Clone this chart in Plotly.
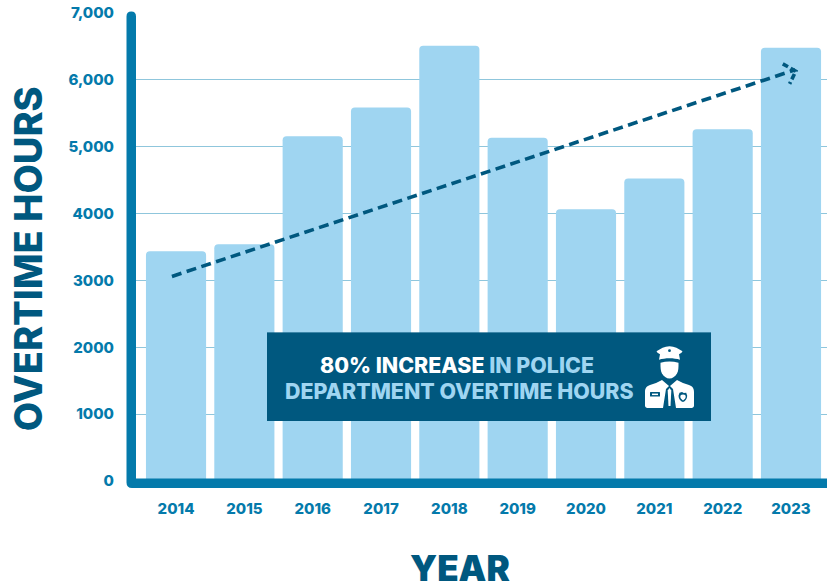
import base64
import plotly.graph_objects as go

years = [2014, 2015, 2016, 2017, 2018, 2019, 2020, 2021, 2022, 2023]
hours = [3435, 3540, 5155, 5585, 6510, 5135, 4065, 4525, 5260, 6480]
y_ticks = [0, 1000, 2000, 3000, 4000, 5000, 6000, 7000]
y_tick_labels = ["0", "1000", "2000", "3000", "4000", "5,000", "6,000", "7,000"]
trend_x = [2013.94, 2023.06]
trend_y = [3060, 6150]
head_x = [2022.88, 2023.07, 2022.98]
head_y = [6240, 6130, 5940]

W, H = 827, 586
L, R, T, B = 131, 0, 12.5, 105
DARK = "#00587f"
MID = "#047aab"
LIGHT = "#9fd5f1"
FONT = "Inter"

def px(x):
    return (x - L) / (W - L - R)

def py(y):
    return (H - B - y) / (H - T - B)

svg = """<svg xmlns='http://www.w3.org/2000/svg' viewBox='0 0 444 89' width='888' height='178'>
<rect width='444' height='89' fill='#00587f'/>
<g transform='translate(378,14)'>
<path fill='white' d='M24.500 0c5 0 9 2.500 13 5l-1 1.500-2.500 1.500 1 5.500c-6-2-15-2-21 0l1-5.500-2.500-1.500-1-1.500c4-2.500 8-5 13-5z'/>
<circle cx='24.500' cy='4.500' r='1.400' fill='#00587f'/>
<path fill='white' d='M15.500 16.500c6-1.500 12-1.500 18 0 0 5 0 8-1.500 11-1.500 3-4.500 5-7.500 5s-6-2-7.500-5c-1.500-3-1.500-6-1.500-11z'/>
<path fill='white' d='M11 37l6-3 7 6-3 3-3 19H2.500c-1.500 0-2.500-1-2.500-2.500V46c0-4 2-6 5-7z'/>
<path fill='white' d='M38 37l-6-3-7 6 3 3 3 19h15.500c1.500 0 2.500-1 2.500-2.500V46c0-4-2-6-5-7z'/>
<path fill='white' d='M24.500 42l1.800 2.500-.8 15.500h-2l-.8-15.500z'/>
<rect x='5' y='46' width='10' height='4.500' rx='.6' fill='#00587f'/>
<rect x='7' y='47.500' width='6' height='1.500' fill='white'/>
<path fill='#00587f' d='M37 46l1.800 1 2.400-.4 1 3c0 3-2 5.500-4.200 6.400-2.400-.9-4.500-3.400-4.500-6.400l1-3z'/>
<path fill='white' d='M38 48.500l2.200.5.500 1.700c0 1.500-1 2.700-2.700 3.600-1.500-.9-2.700-2.100-2.700-3.600l.5-1.700z'/>
</g>
</svg>"""
banner = "data:image/svg+xml;base64," + base64.b64encode(svg.encode()).decode()

fig = go.Figure()
fig.add_bar(x=years, y=hours, width=0.88, marker=dict(color=LIGHT, cornerradius=4, line_width=0),
            hoverinfo="skip", cliponaxis=False)
fig.add_scatter(x=trend_x, y=trend_y, mode="lines", hoverinfo="skip",
                line=dict(color=DARK, width=3.6, dash="10px,5.5px"))
fig.add_scatter(x=head_x, y=head_y, mode="lines", hoverinfo="skip",
                line=dict(color=DARK, width=3.6, dash="6px,3px"))

frame = "M{} {} Q{} {} {} {} Q{} {} {} {} L{} {} L{} {} L{} {} L{} {} Q{} {} {} {} Z".format(
    px(126.5), py(16), px(126.5), py(11), px(131.25), py(11),
    px(136), py(11), px(136), py(16),
    px(136), py(478.5), px(827), py(478.5), px(827), py(488), px(132), py(488),
    px(126.5), py(488), px(126.5), py(482.5))

shapes = [
    dict(type="path", xref="paper", yref="paper", layer="above", fillcolor=MID, line_width=0, path=frame),
]

annotations = [
    dict(text="OVERTIME HOURS", xref="paper", yref="paper", x=px(28), y=py(259),
         textangle=-90, showarrow=False, xanchor="center", yanchor="middle",
         font=dict(family=FONT, size=38, color=DARK, weight=800)),
    dict(text="YEAR", xref="paper", yref="paper", x=px(460), y=py(568),
         showarrow=False, xanchor="center", yanchor="middle",
         font=dict(family=FONT, size=35, color=DARK, weight=900)),
    dict(text="80% INCREASE <span style='color:#9fd5f1'>IN POLICE</span>",
         xref="paper", yref="paper", x=px(456.5), y=py(365), showarrow=False,
         xanchor="center", yanchor="middle", font=dict(family=FONT, size=21.4, color="white", weight=800)),
    dict(text="DEPARTMENT OVERTIME HOURS", xref="paper", yref="paper", x=px(459), y=py(391),
         showarrow=False, xanchor="center", yanchor="middle",
         font=dict(family=FONT, size=21.4, color=LIGHT, weight=800)),
]

fig.update_layout(
    width=W, height=H, margin=dict(l=L, r=R, t=T, b=B, pad=0),
    paper_bgcolor="white", plot_bgcolor="white", showlegend=False,
    shapes=shapes, annotations=annotations,
    images=[dict(source=banner, xref="paper", yref="paper", x=px(267), y=py(332),
                 sizex=444 / (W - L - R), sizey=89 / (H - T - B), xanchor="left", yanchor="top",
                 sizing="stretch", layer="above")],
    xaxis=dict(range=[2013.341, 2023.527], tickmode="array", tickvals=years,
               ticktext=[str(v) for v in years], showgrid=False, zeroline=False,
               ticks="outside", ticklen=14, tickcolor="rgba(0,0,0,0)", showline=False,
               tickfont=dict(family=FONT, size=15, color=MID, weight=800)),
    yaxis=dict(range=[0, 7000], tickmode="array", tickvals=y_ticks, ticktext=y_tick_labels,
               showgrid=True, gridcolor="#8fc6dc", gridwidth=1, zeroline=False, showline=False,
               ticks="outside", ticklen=13, tickcolor="rgba(0,0,0,0)",
               tickfont=dict(family=FONT, size=15, color=MID, weight=800)),
)
fig.write_html("out.html", config={"displayModeBar": False},
               post_script="document.body.style.margin='0';")
